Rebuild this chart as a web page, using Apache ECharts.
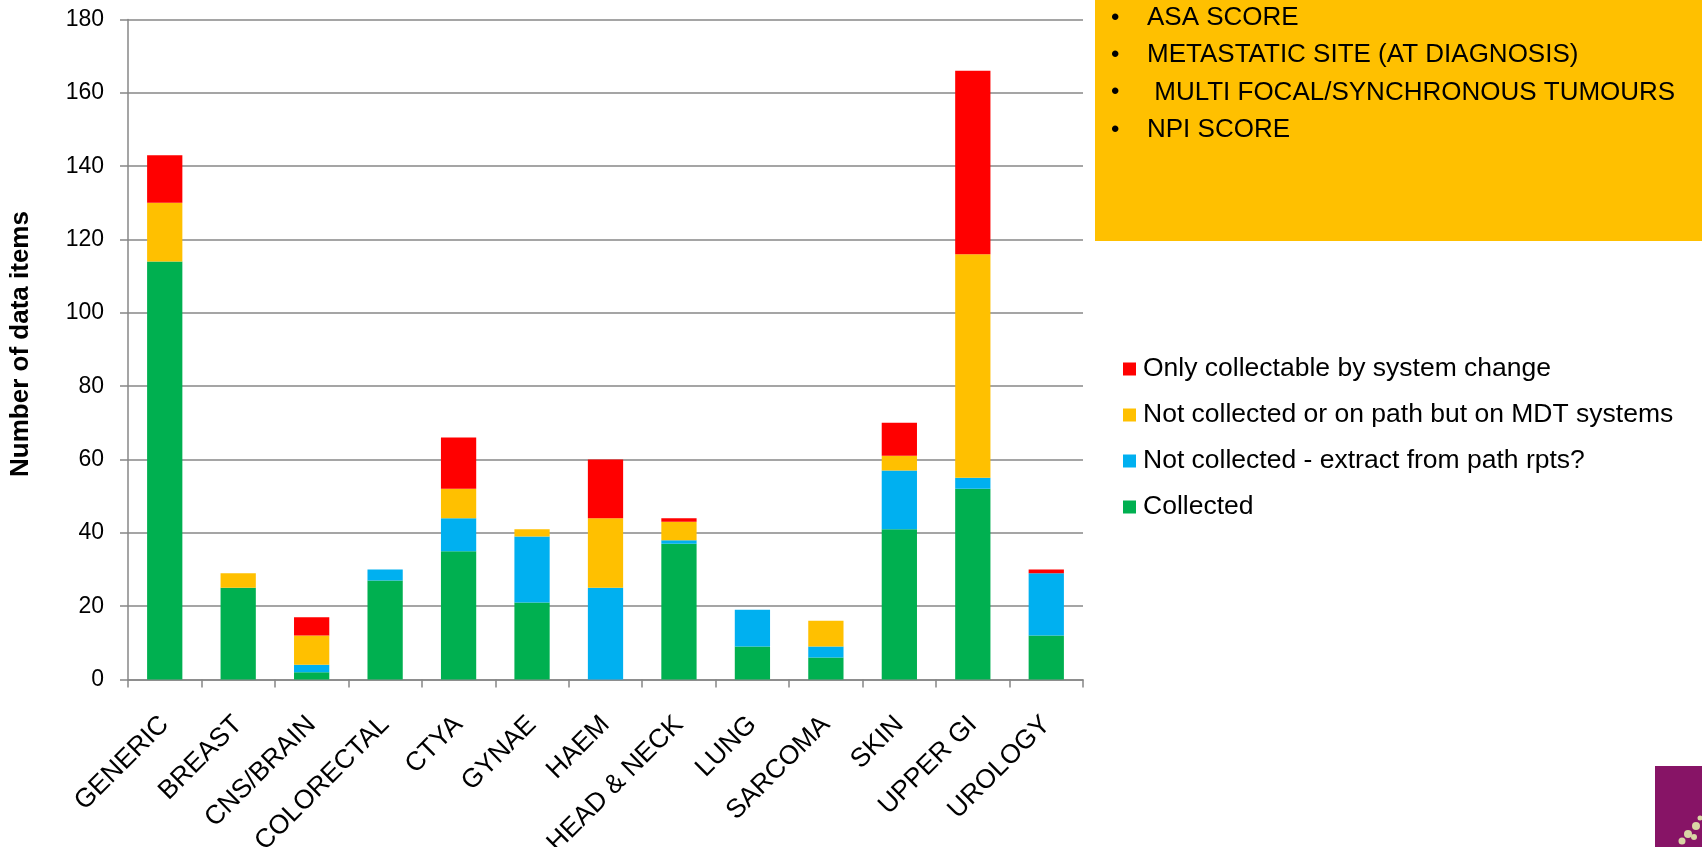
<!DOCTYPE html>
<html>
<head>
<meta charset="utf-8">
<script src="https://cdn.jsdelivr.net/npm/echarts@6/dist/echarts.min.js"></script>
<style>
html,body{margin:0;padding:0;background:#fff;}
#c{width:1702px;height:847px;}
</style>
</head>
<body>
<div id="c"></div>
<script>
const categories = ['GENERIC','BREAST','CNS/BRAIN','COLORECTAL','CTYA','GYNAE','HAEM','HEAD & NECK','LUNG','SARCOMA','SKIN','UPPER GI','UROLOGY'];
const collected     = [114, 25, 2, 27, 35, 21, 0, 37, 9, 6, 41, 52, 12];
const extractPath   = [0, 0, 2, 3, 9, 18, 25, 1, 10, 3, 16, 3, 17];
const notCollectedMDT = [16, 4, 8, 0, 8, 2, 19, 5, 0, 7, 4, 61, 0];
const systemChange  = [13, 0, 5, 0, 14, 0, 16, 1, 0, 0, 9, 50, 1];
const seriesNames = ['Collected','Not collected - extract from path rpts?','Not collected or on path but on MDT systems','Only collectable by system change'];
const seriesColors = ['#00B050','#00B0F0','#FFC000','#FF0000'];
const yTicks = {min:0, max:180, interval:20};
const yTitle = 'Number of data items';
const bulletItems = ['ASA SCORE','METASTATIC SITE (AT DIAGNOSIS)',' MULTI FOCAL/SYNCHRONOUS TUMOURS','NPI SCORE'];

const font = '"Liberation Sans", Arial, sans-serif';
const chart = echarts.init(document.getElementById('c'));
const dataSets = [collected, extractPath, notCollectedMDT, systemChange];

const bulletGraphics = [];
bulletItems.forEach((t, i) => {
  const y = 18 + i * 37.3;
  bulletGraphics.push({type:'text', x:1111, y:y, style:{text:'•', font:'24px ' + font, fill:'#000', verticalAlign:'middle'}});
  bulletGraphics.push({type:'text', x:1147, y:y, style:{text:t, font:'26px ' + font, fill:'#000', verticalAlign:'middle'}});
});

const legendGraphics = [];
[3,2,1,0].forEach((si, i) => {
  const y = 369 + i * 46;
  legendGraphics.push({type:'rect', shape:{x:1123, y:y - 6.5, width:13, height:13}, style:{fill:seriesColors[si]}});
  legendGraphics.push({type:'text', x:1143, y:y, style:{text:seriesNames[si], font:'26.5px ' + font, fill:'#000', verticalAlign:'middle'}});
});

chart.setOption({
  animation:false,
  backgroundColor:'#fff',
  grid:{left:128, right:619, top:19.5, bottom:167.5, containLabel:false, outerBoundsMode:'none'},
  xAxis:{
    type:'category', data:categories,
    axisLine:{lineStyle:{color:'#878787', width:1.5}},
    axisTick:{show:true, length:8, lineStyle:{color:'#878787', width:1.5}},
    axisLabel:{rotate:45, interval:0, margin:41, fontFamily:font, fontSize:26.5, color:'#000'}
  },
  yAxis:{
    type:'value', min:yTicks.min, max:yTicks.max, interval:yTicks.interval,
    axisLine:{show:true, lineStyle:{color:'#878787', width:1.5}},
    axisTick:{show:true, length:8, lineStyle:{color:'#878787', width:1.5}},
    splitLine:{show:true, lineStyle:{color:'#878787', width:1.5}},
    axisLabel:{margin:24, fontFamily:font, fontSize:23, color:'#000'}
  },
  series: dataSets.map((d, i) => ({
    name:seriesNames[i], type:'bar', stack:'total', data:d, barWidth:'48%',
    itemStyle:{color:seriesColors[i]}
  })),
  graphic:[
    {type:'text', x:21, y:344, rotation:Math.PI/2, style:{text:yTitle, font:'bold 26px ' + font, fill:'#000', align:'center', verticalAlign:'middle'}},
    {type:'rect', shape:{x:1095, y:0, width:607, height:241}, style:{fill:'#FFC000'}},
    ...bulletGraphics,
    ...legendGraphics,
    {type:'rect', shape:{x:1655, y:766, width:47, height:81}, style:{fill:'#871466'}},
    {type:'circle', shape:{cx:1696, cy:826, r:4}, style:{fill:'#D9D6A5'}},
    {type:'circle', shape:{cx:1688, cy:834, r:4}, style:{fill:'#D9D6A5'}},
    {type:'circle', shape:{cx:1682, cy:841, r:3.5}, style:{fill:'#D9D6A5'}},
    {type:'circle', shape:{cx:1694, cy:837, r:3}, style:{fill:'#D9D6A5'}},
    {type:'circle', shape:{cx:1700, cy:818, r:2.5}, style:{fill:'#D9D6A5'}}
  ]
});
</script>
</body>
</html>
